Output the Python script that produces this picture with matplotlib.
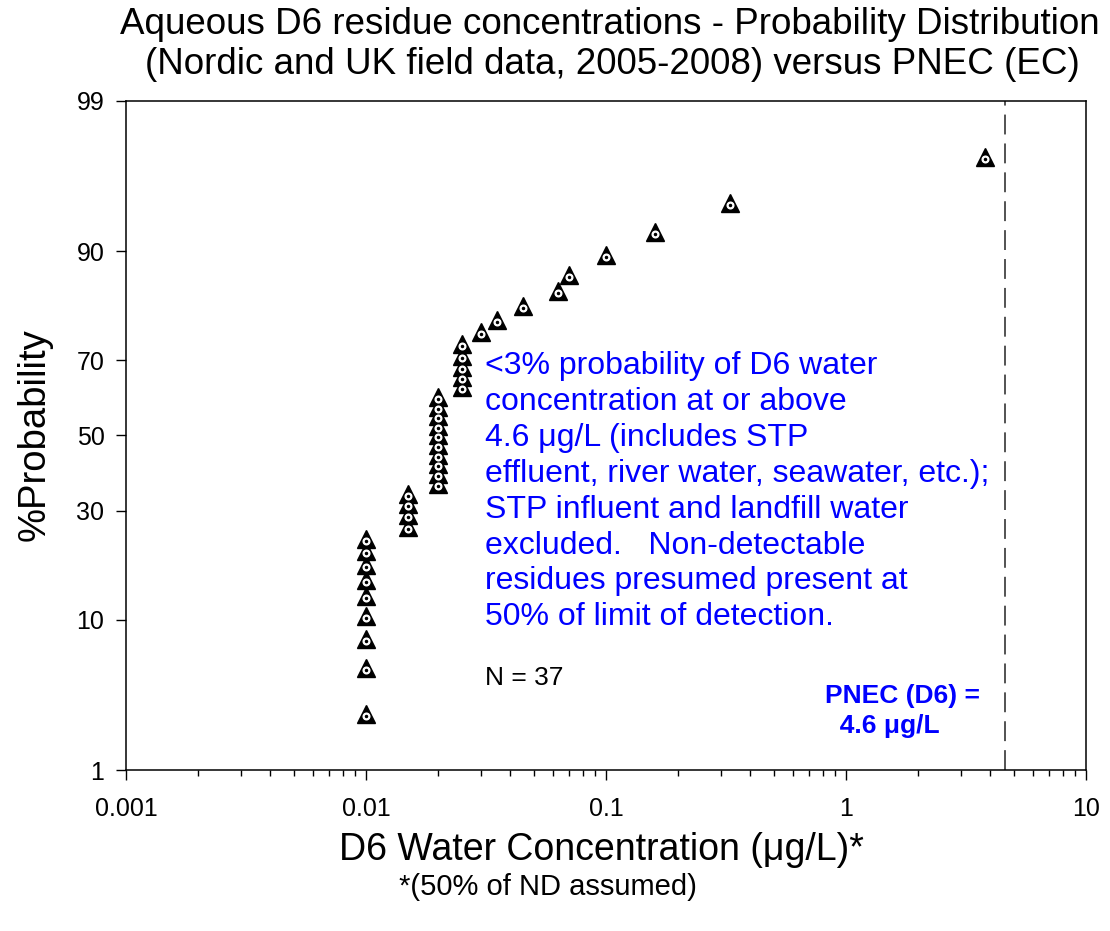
import numpy as np
import matplotlib
matplotlib.use("Agg")
import matplotlib.pyplot as plt
import matplotlib.transforms as mtransforms
from matplotlib.ticker import NullLocator, FixedLocator, FixedFormatter
from statistics import NormalDist

plt.rcParams['font.family'] = ['Liberation Sans', 'DejaVu Sans']

# sorted D6 concentrations (ug/L), 37 samples
conc = [0.01] * 9 + [0.015] * 4 + [0.02] * 10 + [0.025] * 5 + \
       [0.030, 0.035, 0.045, 0.063, 0.070, 0.10, 0.16, 0.33, 3.8]
n_samples = len(conc)
rank = np.arange(1, n_samples + 1)
prob = rank / (n_samples + 1) * 100  # Weibull plotting position

pnec = 4.6
yticks = [1, 10, 30, 50, 70, 90, 99]
xticks = [0.001, 0.01, 0.1, 1, 10]
xtick_labels = ['0.001', '0.01', '0.1', '1', '10']

nd = NormalDist()
_ppf = np.vectorize(nd.inv_cdf, otypes=[float])
_cdf = np.vectorize(nd.cdf, otypes=[float])


def probit(p):
    p = np.clip(np.asarray(p, dtype=float) / 100.0, 1e-9, 1 - 1e-9)
    return _ppf(p)


def inv_probit(z):
    return _cdf(np.asarray(z, dtype=float)) * 100.0


fig = plt.figure(figsize=(11.1, 9.31), dpi=100)
ax = fig.add_axes([126 / 1110, 1 - 770 / 931, 960 / 1110, 669 / 931])

ax.set_xscale('log')
ax.set_yscale('function', functions=(probit, inv_probit))
ax.set_xlim(0.001, 10)
ax.set_ylim(1, 99)

# triangle with a white ring and black dot, SigmaPlot style
shift = ax.transData + mtransforms.ScaledTranslation(0, -2 / 100, fig.dpi_scale_trans)
ax.plot(conc, prob, linestyle='none', marker='^', markersize=12.5,
        markerfacecolor='black', markeredgecolor='black', zorder=3)
ax.plot(conc, prob, linestyle='none', marker='o', markersize=4.8,
        markerfacecolor='white', markeredgecolor='white', zorder=4, transform=shift)
ax.plot(conc, prob, linestyle='none', marker='o', markersize=1.5,
        markerfacecolor='black', markeredgecolor='black', zorder=5, transform=shift)

ax.axvline(pnec, color='#444444', linewidth=1.3, dashes=(11, 5), zorder=2)

ax.yaxis.set_major_locator(FixedLocator(yticks))
ax.yaxis.set_major_formatter(FixedFormatter([str(t) for t in yticks]))
ax.yaxis.set_minor_locator(NullLocator())
ax.xaxis.set_major_locator(FixedLocator(xticks))
ax.xaxis.set_major_formatter(FixedFormatter(xtick_labels))

ax.tick_params(axis='both', which='major', direction='out', length=7.5, width=1,
               labelsize=18)
ax.tick_params(axis='y', which='major', pad=8)
ax.tick_params(axis='x', which='major', pad=12)
ax.tick_params(axis='x', which='minor', direction='out', length=4.5, width=1)
for s in ax.spines.values():
    s.set_linewidth(1.1)

ax.text(0.374, 0.626,
        "<3% probability of D6 water\nconcentration at or above\n"
        "4.6 \u03bcg/L (includes STP\neffluent, river water, seawater, etc.);\n"
        "STP influent and landfill water\nexcluded.   Non-detectable\n"
        "residues presumed present at\n50% of limit of detection.",
        transform=ax.transAxes, color='blue', fontsize=23, va='top', ha='left',
        linespacing=1.255)
ax.text(0.374, 0.137, "N = 37", transform=ax.transAxes, fontsize=19,
        va='center', ha='left')
ax.text(0.728, 0.088, "PNEC (D6) =\n  4.6 \u03bcg/L", transform=ax.transAxes,
        color='blue', fontsize=19, fontweight='bold', va='center', ha='left',
        linespacing=1.35)

fig.text(0.549, 1 - 25 / 931, "Aqueous D6 residue concentrations - Probability Distribution",
         ha='center', va='center', fontsize=26.5)
fig.text(0.552, 1 - 64 / 931, "(Nordic and UK field data, 2005-2008) versus PNEC (EC)",
         ha='center', va='center', fontsize=26.5)
fig.text(0.031, 1 - 435 / 931, "%Probability", rotation=90, ha='center',
         va='center', fontsize=27.5)
fig.text(0.542, 1 - 850 / 931, "D6 Water Concentration (\u03bcg/L)*",
         ha='center', va='center', fontsize=27)
fig.text(0.494, 1 - 887 / 931, "*(50% of ND assumed)",
         ha='center', va='center', fontsize=21)

fig.savefig('out.png', dpi=100)
